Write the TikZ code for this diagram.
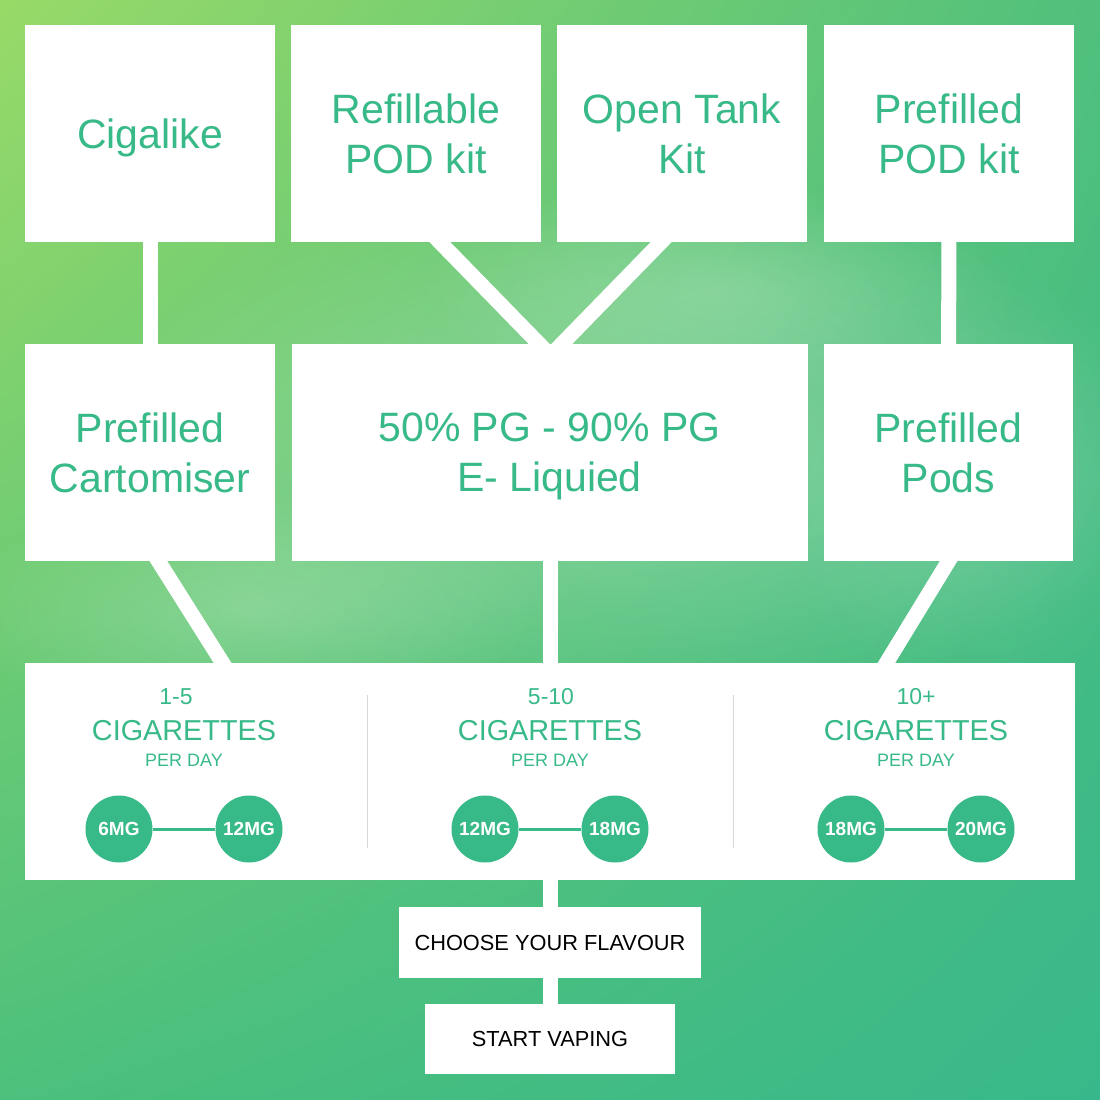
\documentclass[tikz,border=0pt]{standalone}
\usepackage{fontspec}
\setmainfont{Liberation Sans}
\usetikzlibrary{calc,fadings,shadings}
\definecolor{tg}{RGB}{56,185,136}
\definecolor{bgul}{RGB}{152,218,104}
\definecolor{bgur}{RGB}{80,192,124}
\definecolor{bgll}{RGB}{76,192,124}
\definecolor{bglr}{RGB}{56,184,138}
\definecolor{divgray}{RGB}{215,215,215}
\tikzfading[name=fuzzy, inner color=transparent!0, outer color=transparent!100]
\pgfdeclarelayer{bgl}
\pgfdeclarelayer{conn}
\pgfsetlayers{bgl,conn,main}
\tikzset{
  bigbox/.style={fill=white, inner sep=0pt, minimum height=217pt, text=tg,
    font=\fontsize{41}{50}\selectfont, align=center, text depth=0pt},
  smallbox/.style={fill=white, inner sep=0pt, minimum height=71pt, text=black,
    font=\fontsize{21.8}{25}\selectfont},
  conn/.style={draw=white, line width=15pt},
  mgcirc/.style={circle, fill=tg, minimum size=67pt, inner sep=0pt, text=white,
    font=\bfseries\fontsize{19}{22}\selectfont},
  mgline/.style={draw=tg, line width=3pt},
  counttxt/.style={text=tg, font=\fontsize{23}{26}\selectfont, inner sep=0pt},
  cigtxt/.style={text=tg, font=\fontsize{28.8}{32}\selectfont, inner sep=0pt},
  pertxt/.style={text=tg, font=\fontsize{18}{20}\selectfont, inner sep=0pt},
  divline/.style={draw=divgray, line width=1pt}
}
\begin{document}
\begin{tikzpicture}[x=1pt,y=-1pt]
\useasboundingbox (0,0) rectangle (1100,1100);
\begin{pgfonlayer}{bgl}
  \shade[upper left=bgul, upper right=bgur, lower left=bgll, lower right=bglr]
    (0,0) rectangle (1100,1100);
  \fill[white, opacity=0.28, path fading=fuzzy] (620,450) ellipse [x radius=560, y radius=260];
  \fill[white, opacity=0.22, path fading=fuzzy] (250,610) ellipse [x radius=300, y radius=120];
  \fill[white, opacity=0.18, path fading=fuzzy] (720,290) ellipse [x radius=300, y radius=110];
  \fill[white, opacity=0.12, path fading=fuzzy] (980,500) ellipse [x radius=200, y radius=200];
\end{pgfonlayer}

% row 1
\node[bigbox, minimum width=250pt] (cig)    at (150,133.5) {Cigalike};
\node[bigbox, minimum width=250pt] (refill) at (416,133.5) {Refillable\\POD kit};
\node[bigbox, minimum width=250pt] (tank)   at (682,133.5) {Open Tank\\Kit};
\node[bigbox, minimum width=250pt] (ppod)   at (949,133.5) {Prefilled\\POD kit};
% row 2
\node[bigbox, minimum width=250pt] (cart) at (150,452.5) {Prefilled\\Cartomiser};
\node[bigbox, minimum width=516pt] (mid)  at (549.5,452.5) {50\% PG - 90\% PG\\E- Liquied};
\node[bigbox, minimum width=249pt] (pods) at (948.5,452.5) {Prefilled\\Pods};
% row 3
\node[fill=white, inner sep=0pt, minimum width=1050pt, minimum height=217pt] (bottom) at (550,771.5) {};
% bottom steps
\node[smallbox, minimum width=302pt] (choose) at (550,942.5) {CHOOSE YOUR FLAVOUR};
\node[smallbox, minimum width=250pt, minimum height=70pt] (start) at (550,1039) {START VAPING};

% row 3 contents
\node[counttxt] (n1) at (176,697) {1-5};
\node[cigtxt]   (c1) at (184,731) {CIGARETTES};
\node[pertxt]   (p1) at (184,760) {PER DAY};
\node[counttxt] (n2) at (551,697) {5-10};
\node[cigtxt]   (c2) at (550,731) {CIGARETTES};
\node[pertxt]   (p2) at (550,760) {PER DAY};
\node[counttxt] (n3) at (916,697) {10+};
\node[cigtxt]   (c3) at (916,731) {CIGARETTES};
\node[pertxt]   (p3) at (916,760) {PER DAY};

\node[mgcirc] (m1a) at (119,829) {6MG};
\node[mgcirc] (m1b) at (249,829) {12MG};
\node[mgcirc] (m2a) at (485,829) {12MG};
\node[mgcirc] (m2b) at (615,829) {18MG};
\node[mgcirc] (m3a) at (851,829) {18MG};
\node[mgcirc] (m3b) at (981,829) {20MG};
\draw[mgline] (m1a) -- (m1b);
\draw[mgline] (m2a) -- (m2b);
\draw[mgline] (m3a) -- (m3b);

\coordinate (d1t) at (367,695);
\coordinate (d1b) at (367,848);
\coordinate (d2t) at (733,695);
\coordinate (d2b) at (733,848);
\draw[divline] (d1t) -- (d1b);
\draw[divline] (d2t) -- (d2b);

% connectors (behind boxes)
\begin{pgfonlayer}{conn}
  \draw[conn] (cig.center) -- (cart.center);
  \draw[conn] (ppod.center) -- (pods.center);
  \coordinate (a1) at ([xshift=24pt]refill.south);
  \coordinate (a2) at ([xshift=-10.5pt]mid.north);
  \coordinate (b1) at ([xshift=-21pt]tank.south);
  \coordinate (b2) at ([xshift=12.5pt]mid.north);
  \draw[conn] ($(a1)!-0.15!(a2)$) -- ($(a2)!-0.15!(a1)$);
  \draw[conn] ($(b1)!-0.15!(b2)$) -- ($(b2)!-0.15!(b1)$);
  \coordinate (e1) at ([xshift=8.5pt]cart.south);
  \coordinate (e2) at ([xshift=-327.5pt]bottom.north);
  \coordinate (f1) at (pods.south);
  \coordinate (f2) at ([xshift=336.5pt]bottom.north);
  \draw[conn] ($(e1)!-0.15!(e2)$) -- ($(e2)!-0.15!(e1)$);
  \draw[conn] ($(f1)!-0.15!(f2)$) -- ($(f2)!-0.15!(f1)$);
  \draw[conn] (bottom.north |- mid.center) -- (bottom.center);
  \draw[conn] (bottom.center) -- (choose.center);
  \draw[conn] (choose.center) -- (start.center);
\end{pgfonlayer}
\end{tikzpicture}
\end{document}
